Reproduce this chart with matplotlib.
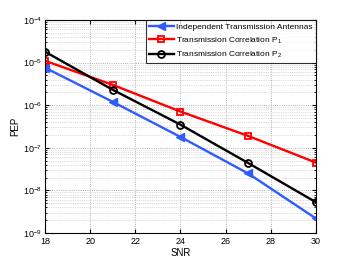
import matplotlib
matplotlib.use("Agg")
import matplotlib.pyplot as plt
from matplotlib.ticker import LogLocator, NullFormatter

plt.rcParams["font.family"] = ["Liberation Sans", "DejaVu Sans"]
plt.rcParams["mathtext.fontset"] = "custom"
plt.rcParams["mathtext.rm"] = "Liberation Sans"
plt.rcParams["mathtext.it"] = "Liberation Sans:italic"

snr = [18, 21, 24, 27, 30]
pep_indep = [7.6e-6, 1.2e-6, 1.8e-7, 2.5e-8, 2.2e-9]
pep_corr_p1 = [1.1e-5, 3.0e-6, 7.1e-7, 1.9e-7, 4.5e-8]
pep_corr_p2 = [1.8e-5, 2.3e-6, 3.5e-7, 4.4e-8, 5.3e-9]
labels = ["Independent Transmission Antennas",
          "Transmission Correlation P$_1$",
          "Transmission Correlation P$_2$"]

fig = plt.figure(figsize=(3.49, 2.63), dpi=100)
ax = fig.add_axes([0.129, 0.114, 0.776, 0.810])

ax.semilogy(snr, pep_indep, color="#2f5bff", marker="<", markersize=6, lw=1.7,
            markerfacecolor="#2f5bff", label=labels[0])
ax.semilogy(snr, pep_corr_p1, color="red", marker="s", markersize=4.5, lw=1.7,
            markerfacecolor="none", markeredgewidth=1.3, label=labels[1])
ax.semilogy(snr, pep_corr_p2, color="black", marker="o", markersize=5, lw=1.7,
            markerfacecolor="none", markeredgewidth=1.3, label=labels[2])

ax.set_xlim(18, 30)
ax.set_ylim(1e-9, 1e-4)
ax.set_xticks([18, 20, 22, 24, 26, 28, 30])
ax.yaxis.set_major_locator(LogLocator(base=10, numticks=10))
ax.yaxis.set_minor_locator(LogLocator(base=10, subs=range(2, 10), numticks=10))
ax.yaxis.set_minor_formatter(NullFormatter())

ax.grid(True, which="major", linestyle=":", color="#999999", lw=0.6)
ax.grid(True, which="minor", axis="y", linestyle=":", color="#bbbbbb", lw=0.5)
ax.tick_params(which="both", direction="in", top=True, right=True, labelsize=6.5)
ax.tick_params(axis="x", pad=3)
ax.tick_params(axis="y", pad=2)
ax.tick_params(which="major", length=3)
ax.tick_params(which="minor", length=1.5)
for s in ax.spines.values():
    s.set_linewidth(0.8)

ax.set_xlabel("SNR", fontsize=7, labelpad=1)
ax.set_ylabel("PEP", fontsize=7, labelpad=2)

leg = ax.legend(loc="upper right", fontsize=6.0, frameon=True, fancybox=False,
                edgecolor="black", borderpad=0.35, handlelength=3.0,
                handletextpad=0.3, labelspacing=0.55, borderaxespad=0.0)
leg.get_frame().set_linewidth(0.8)

fig.savefig("out.png", dpi=100)
